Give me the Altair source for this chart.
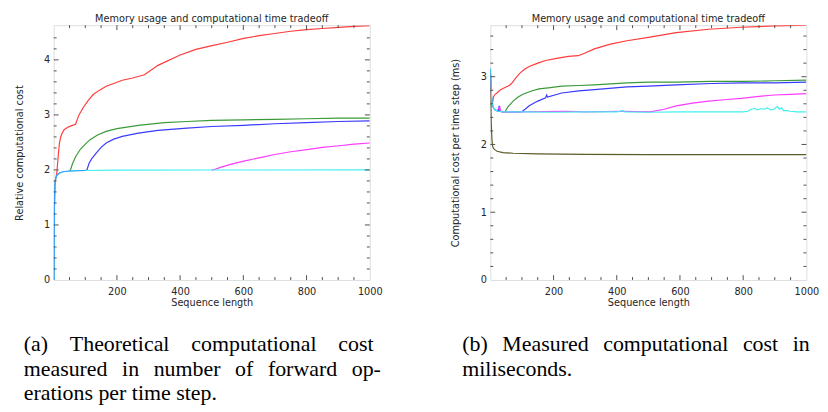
import altair as alt
import pandas as pd

# ---------------- data: (a) theoretical cost ----------------
a_cyan_x = [1, 2, 3, 4, 5, 7, 10, 15, 20, 30, 50, 100, 200, 500, 1000]
a_cyan_y = [0, 1.2, 1.55, 1.72, 1.8, 1.86, 1.9, 1.93, 1.95, 1.967, 1.98, 1.99, 1.995, 1.998, 2.0]

a_start_x = [1, 2, 3, 4, 5, 7, 10, 15, 20, 30, 50, 100]
a_start_y = [0, 1.2, 1.55, 1.72, 1.8, 1.86, 1.9, 1.93, 1.95, 1.967, 1.98, 1.99]

a_red_x = [1, 2, 3, 4, 5, 7, 10, 12, 15, 18, 22, 27, 33, 43, 55, 69, 80, 94, 110, 125, 145, 166, 190,
           217, 250, 287, 330, 400, 450, 494, 550, 601, 650, 699, 750, 801, 850, 903, 950, 1000]
a_red_y = [0, 1.2, 1.55, 1.72, 1.8, 1.86, 1.95, 2.1, 2.3, 2.48, 2.6, 2.67, 2.73, 2.77, 2.8, 2.83, 3.0,
           3.14, 3.27, 3.37, 3.45, 3.52, 3.57, 3.63, 3.67, 3.73, 3.9, 4.09, 4.19, 4.25, 4.32, 4.39,
           4.44, 4.48, 4.52, 4.55, 4.57, 4.59, 4.61, 4.62]

a_green_x = [50, 53, 60, 70, 85, 100, 115, 140, 166, 200, 268, 350, 422, 500, 600, 700, 800, 900, 1000]
a_green_y = [1.98, 2.0, 2.12, 2.25, 2.38, 2.47, 2.55, 2.64, 2.7, 2.75, 2.81, 2.86, 2.88, 2.9, 2.91,
             2.92, 2.93, 2.94, 2.94]

a_blue_x = [100, 105, 112, 120, 135, 150, 166, 190, 217, 268, 330, 422, 500, 601, 700, 800, 900, 1000]
a_blue_y = [1.99, 2.0, 2.12, 2.2, 2.31, 2.41, 2.49, 2.56, 2.61, 2.67, 2.72, 2.76, 2.79, 2.81, 2.84,
            2.86, 2.88, 2.89]

a_mag_x = [500, 504, 530, 560, 601, 650, 699, 750, 801, 850, 903, 950, 1000]
a_mag_y = [2.0, 2.0, 2.05, 2.1, 2.16, 2.22, 2.28, 2.33, 2.37, 2.41, 2.44, 2.47, 2.49]

# ---------------- data: (b) measured cost ----------------
b_olive_x = [0, 1, 2, 3, 5, 7, 10, 15, 21, 40, 72, 150, 300, 500, 800, 1000]
b_olive_y = [3.1, 2.8, 2.5, 2.3, 2.08, 1.98, 1.94, 1.92, 1.9, 1.88, 1.87, 1.86, 1.855, 1.85, 1.85, 1.85]

b_red_x = [0, 2, 4, 5, 7, 10, 15, 21, 30, 46, 60, 67, 80, 93, 108, 123, 150, 175, 210, 247, 278, 300,
           329, 380, 432, 500, 588, 691, 794, 900, 1000]
b_red_y = [3.1, 2.85, 2.65, 2.55, 2.62, 2.7, 2.74, 2.76, 2.8, 2.84, 2.87, 2.9, 2.98, 3.05, 3.11, 3.15,
           3.2, 3.24, 3.27, 3.3, 3.31, 3.35, 3.41, 3.48, 3.53, 3.58, 3.65, 3.7, 3.73, 3.75, 3.76]

b_green_x = [20, 46, 55, 72, 88, 103, 130, 154, 190, 226, 280, 329, 432, 500, 588, 700, 800, 900, 1000]
b_green_y = [2.5, 2.48, 2.55, 2.64, 2.7, 2.74, 2.79, 2.82, 2.84, 2.86, 2.87, 2.88, 2.91, 2.92, 2.92,
             2.93, 2.93, 2.94, 2.95]

b_blue_x = [0, 2, 4, 6, 10, 15, 25, 28, 31, 40, 98, 110, 123, 150, 175, 178, 181, 226, 280, 329, 432,
            500, 588, 700, 800, 900, 1000]
b_blue_y = [3.12, 2.9, 2.7, 2.6, 2.54, 2.51, 2.49, 2.57, 2.49, 2.48, 2.48, 2.52, 2.57, 2.64, 2.69,
            2.73, 2.7, 2.76, 2.79, 2.81, 2.85, 2.86, 2.88, 2.9, 2.91, 2.91, 2.92]

b_mag_x = [20, 30, 32, 35, 100, 240, 300, 420, 506, 550, 588, 640, 691, 740, 794, 850, 897, 950, 1000]
b_mag_y = [2.49, 2.55, 2.49, 2.48, 2.48, 2.49, 2.48, 2.49, 2.48, 2.52, 2.57, 2.61, 2.64, 2.66, 2.68,
           2.71, 2.73, 2.74, 2.75]

b_cyan_x = [0, 2, 4, 6, 10, 15, 25, 40, 100, 200, 300, 400, 420, 425, 500, 600, 700, 800, 815, 825,
            836, 846, 856, 866, 877, 887, 897, 908, 915, 922, 928, 940, 949, 970, 1000]
b_cyan_y = [3.12, 2.9, 2.7, 2.6, 2.54, 2.51, 2.49, 2.48, 2.48, 2.475, 2.48, 2.48, 2.5, 2.48, 2.475,
            2.48, 2.48, 2.48, 2.49, 2.52, 2.53, 2.51, 2.53, 2.52, 2.54, 2.51, 2.52, 2.56, 2.52, 2.54,
            2.5, 2.5, 2.49, 2.48, 2.48]

# ---------------- axes ----------------
x_label_values = [200, 400, 600, 800, 1000]
x_major_ticks = [200, 400, 600, 800]
x_minor_ticks = [50, 100, 150, 250, 300, 350, 450, 500, 550, 650, 700, 750, 850, 900, 950]

a_y_labels = [0, 1, 2, 3, 4]
a_y_major = [1, 2, 3, 4]
a_y_minor = [0.2, 0.4, 0.6, 0.8, 1.2, 1.4, 1.6, 1.8, 2.2, 2.4, 2.6, 2.8, 3.2, 3.4, 3.6, 3.8, 4.2, 4.4]
b_y_labels = [0, 1, 2, 3]
b_y_major = [1, 2, 3]
b_y_minor = [0.2, 0.4, 0.6, 0.8, 1.2, 1.4, 1.6, 1.8, 2.2, 2.4, 2.6, 2.8, 3.2, 3.4, 3.6]

TITLE = "Memory usage and computational time tradeoff"
# justified caption lines (wider unicode spaces imitate the justified paragraph)
CAP_A = ["(a)\u2003Theoretical\u2003computational\u2003cost",
         "measured\u2002\u2006in\u2002\u2006number\u2002\u2006of\u2002\u2006forward\u2002\u2006op-",
         "erations per time step."]
CAP_B = ["(b)\u2002\u2006Measured\u2002\u2006computational\u2002\u2006cost\u2002\u2006in",
         "miliseconds."]

W, H = 325, 262
FRAME = "#4d4d4d"
TXT = "#262626"
SANS = "DejaVu Sans"


def panel(series, ymax, ytitle, ylabels, ymaj, ymin, caption, cap_dx):
    xs = alt.Scale(domain=[0, 1000], nice=False, zero=False)
    ys = alt.Scale(domain=[0, ymax], nice=False)
    X = alt.X("x:Q", scale=xs, axis=alt.Axis(values=x_label_values, title="Sequence length",
                                             format="d", grid=False, ticks=False, tickSize=0,
                                             domain=False, labelPadding=7, titlePadding=1,
                                             labelFontSize=10, titleFontSize=10, labelColor=TXT,
                                             titleColor=TXT, labelFont=SANS, titleFont=SANS,
                                             titleFontWeight="normal", labelFlush=False))
    Y = alt.Y("y:Q", scale=ys, axis=alt.Axis(values=ylabels, title=ytitle, format="d", grid=False,
                                             ticks=False, tickSize=0, domain=False, labelPadding=4,
                                             titlePadding=20, labelFontSize=10, titleFontSize=10,
                                             labelColor=TXT, titleColor=TXT, labelFont=SANS,
                                             titleFont=SANS, titleFontWeight="normal",
                                             labelFlush=False))
    layers = []
    for xv, yv, col in series:
        df = pd.DataFrame({"x": xv, "y": yv})
        layers.append(alt.Chart(df).mark_line(color=col, strokeWidth=1.2, clip=True)
                      .encode(x=X, y=Y))
    for vals, ln in ((x_major_ticks, 5), (x_minor_ticks, 3)):
        df = pd.DataFrame({"x": vals})
        layers.append(alt.Chart(df).mark_rule(color=FRAME, strokeWidth=1)
                      .encode(x=X, y=alt.value(H), y2=alt.value(H - ln)))
        layers.append(alt.Chart(df).mark_rule(color=FRAME, strokeWidth=1)
                      .encode(x=X, y=alt.value(0), y2=alt.value(ln)))
    for vals, ln in ((ymaj, 5), (ymin, 3)):
        df = pd.DataFrame({"y": vals})
        layers.append(alt.Chart(df).mark_rule(color=FRAME, strokeWidth=1)
                      .encode(y=Y, x=alt.value(0), x2=alt.value(ln)))
        layers.append(alt.Chart(df).mark_rule(color=FRAME, strokeWidth=1)
                      .encode(y=Y, x=alt.value(W), x2=alt.value(W - ln)))
    plot = alt.layer(*layers).properties(
        width=W, height=H,
        title=alt.TitleParams(TITLE, fontSize=10, font=SANS, fontWeight="normal", color=TXT,
                              offset=1, anchor="middle"))
    return alt.vconcat(plot).properties(
        title=alt.TitleParams(caption, orient="bottom", anchor="start", frame="bounds",
                              font="Liberation Serif", fontSize=22.5, fontWeight="normal",
                              color="black", lineHeight=25, offset=27, dx=cap_dx))


RED, GREEN, BLUE, MAG, CYAN, LBLUE = "#ff3b3b", "#3a9a3a", "#3a3aff", "#ff3bff", "#40f0f0", "#3399ff"
OLIVE = "#5a5a2a"

panel_a = panel([(a_red_x, a_red_y, RED), (a_green_x, a_green_y, GREEN), (a_blue_x, a_blue_y, BLUE),
                 (a_mag_x, a_mag_y, MAG), (a_cyan_x, a_cyan_y, CYAN), (a_start_x, a_start_y, LBLUE)],
                4.63, "Relative computational cost", a_y_labels, a_y_major, a_y_minor, CAP_A, 10)
panel_b = panel([(b_olive_x, b_olive_y, OLIVE), (b_red_x, b_red_y, RED), (b_green_x, b_green_y, GREEN),
                 (b_blue_x, b_blue_y, BLUE), (b_mag_x, b_mag_y, MAG), (b_cyan_x, b_cyan_y, CYAN)],
                3.76, "Computational cost per time step (ms)", b_y_labels, b_y_major, b_y_minor,
                CAP_B, 12)

chart = alt.hconcat(panel_a, panel_b, spacing=69).properties(
    padding={"left": 6, "top": 0, "right": 0, "bottom": 0}
).configure_view(stroke=FRAME, strokeWidth=1).configure(background="white")

chart.save("out.html", embed_options={"renderer": "svg", "actions": False})
